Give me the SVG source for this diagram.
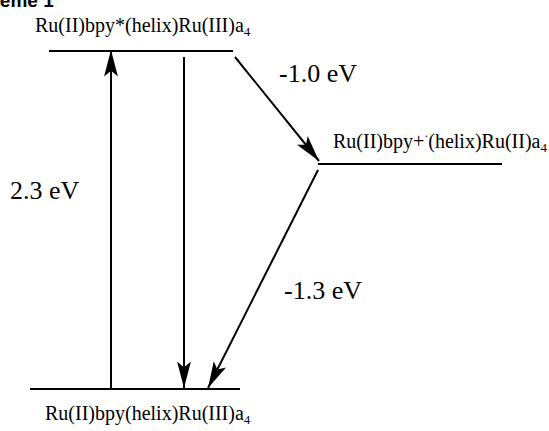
<svg xmlns="http://www.w3.org/2000/svg" width="549" height="431" viewBox="0 0 549 431">
<style>
.lvl{stroke:#000;stroke-width:2.2;fill:none}
.arr{stroke:#000;stroke-width:2;fill:none;marker-end:url(#ah)}
.lab{font-family:"Liberation Serif","Times New Roman",serif;font-size:20px;fill:#000}
.en{font-family:"Liberation Serif","Times New Roman",serif;font-size:26px;fill:#000}
.ttl{font-family:"Liberation Sans",Arial,sans-serif;font-size:19px;font-weight:bold;fill:#000}
</style>
<defs>
<marker id="ah" markerUnits="userSpaceOnUse" markerWidth="30" markerHeight="20" viewBox="-24 -8 26 16" refX="0" refY="0" orient="auto">
<path d="M0,0 L-23,-6 L-18,0 L-23,6 Z" fill="#000"/>
</marker>
</defs>
<text class="ttl" x="-35" y="7">Scheme 1</text>
<g id="excited">
<line class="lvl" x1="49" y1="51" x2="233" y2="51"/>
<text class="lab" x="35" y="32">Ru(II)bpy*(helix)Ru(III)a<tspan font-size="13" dy="4">4</tspan></text>
</g>
<g id="intermediate">
<line class="lvl" x1="318" y1="164" x2="502" y2="164"/>
<text class="lab" x="333" y="148">Ru(II)bpy+<tspan font-size="12" dy="-8">·</tspan><tspan dy="8">(helix)Ru(II)a</tspan><tspan font-size="13" dy="4">4</tspan></text>
</g>
<g id="ground">
<line class="lvl" x1="30" y1="389" x2="240" y2="389"/>
<text class="lab" x="45" y="420">Ru(II)bpy(helix)Ru(III)a<tspan font-size="13" dy="4">4</tspan></text>
</g>
<g id="connectors">
<line class="arr" x1="111" y1="389" x2="111" y2="50"/>
<line class="arr" x1="184" y1="57" x2="184" y2="388"/>
<line class="arr" x1="235" y1="57" x2="319" y2="161"/>
<line class="arr" x1="318" y1="170" x2="208" y2="388"/>
</g>
<g id="labels">
<text class="en" x="279" y="82">-1.0 eV</text>
<text class="en" x="10" y="199">2.3 eV</text>
<text class="en" x="284" y="299">-1.3 eV</text>
</g>
</svg>
